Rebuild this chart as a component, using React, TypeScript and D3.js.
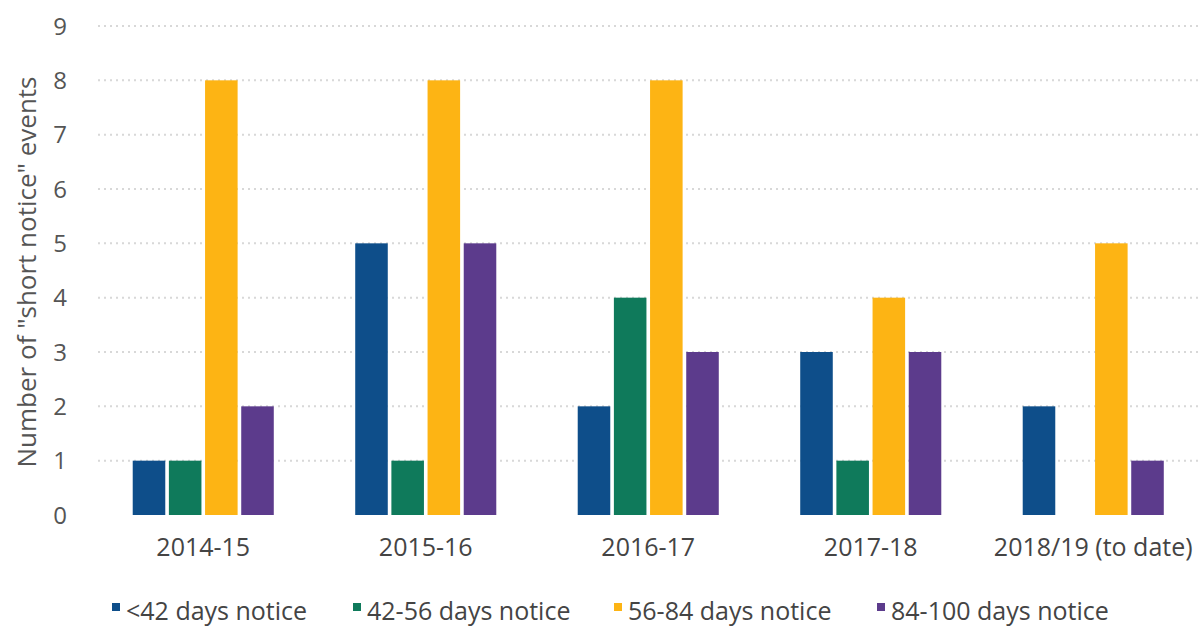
import React from "react";
import * as d3 from "d3";

const categories = ["2014-15", "2015-16", "2016-17", "2017-18", "2018/19 (to date)"];
const seriesNames = ["<42 days notice", "42-56 days notice", "56-84 days notice", "84-100 days notice"];
const lt42 = [1, 5, 2, 3, 2];
const d42to56 = [1, 1, 4, 1, 0];
const d56to84 = [8, 8, 8, 4, 5];
const d84to100 = [2, 5, 3, 3, 1];
const seriesValues = [lt42, d42to56, d56to84, d84to100];
const colors = ["#0e4e8a", "#0f7a5b", "#fdb414", "#5c3b8c"];
const yTicks = [0, 1, 2, 3, 4, 5, 6, 7, 8, 9];

const W = 1198;
const H = 626;
const FONT = "'Open Sans', 'Noto Sans', sans-serif";

export default function App() {
  const x = d3.scaleBand<string>().domain(categories).range([92, 1204.5]).paddingInner(0.366).paddingOuter(0.183);
  const x1 = d3.scaleBand<string>().domain(seriesNames).range([0, x.bandwidth()]).paddingInner(0.1);
  const y = d3.scaleLinear().domain([0, 9]).range([515, 26]);
  const legendX = [126, 367, 628, 891];

  return (
    <svg width={W} height={H} style={{ position: "absolute", left: 0, top: 0, background: "#fff" }} fontFamily={FONT}>
      {yTicks.filter((t) => t > 0).map((t) => (
        <line key={"g" + t} x1={98} x2={W} y1={y(t)} y2={y(t)} stroke="#d8d8d8" strokeWidth={2} strokeDasharray="2,4" />
      ))}
      {yTicks.map((t) => (
        <text key={"t" + t} x={60} y={y(t)} dy="0.36em" textAnchor="middle" fontSize={24} fill="#555">{t}</text>
      ))}
      <text transform={`translate(36,272) rotate(-90)`} textAnchor="middle" fontSize={26} fill="#555">
        Number of "short notice" events
      </text>
      {categories.map((c, i) => (
        <g key={c} transform={`translate(${x(c)},0)`}>
          {seriesNames.map((s, j) => {
            const v = seriesValues[j][i];
            if (v <= 0) return null;
            return (
              <rect key={s} x={x1(s)} y={y(v)} width={x1.bandwidth()} height={y(0) - y(v)} fill={colors[j]} />
            );
          })}
          <text x={x.bandwidth() / 2} y={556} textAnchor="middle" fontSize={25} fill="#444">{c}</text>
        </g>
      ))}
      {seriesNames.map((s, j) => (
        <g key={"l" + s} transform={`translate(${legendX[j]},0)`}>
          <rect x={-14} y={603} width={8} height={8} fill={colors[j]} />
          <text x={0} y={620} fontSize={25} fill="#444">{s}</text>
        </g>
      ))}
    </svg>
  );
}
